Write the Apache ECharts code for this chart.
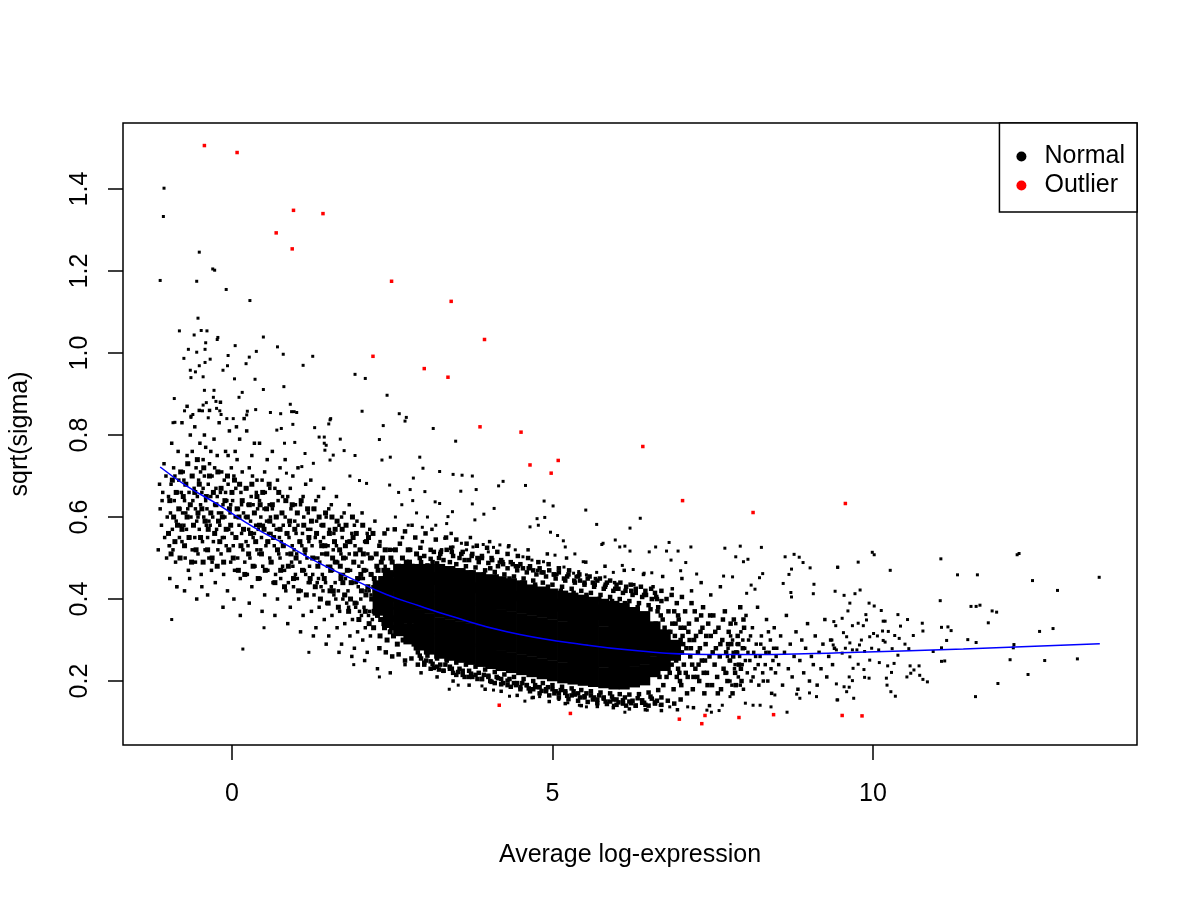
<!DOCTYPE html>
<html>
<head>
<meta charset="utf-8">
<title>sqrt(sigma) vs average log-expression</title>
<script src="https://cdn.jsdelivr.net/npm/echarts@6/dist/echarts.min.js"></script>
<style>
  html, body { margin: 0; background: #fff; }
  #main { width: 1200px; height: 900px; }
</style>
</head>
<body>
<div id="main"></div>
<script>
// axis ticks
const xTicks = [0, 5, 10];
const yTicks = [0.2, 0.4, 0.6, 0.8, 1.0, 1.2, 1.4];

// fitted trend (blue)
const trendX = [-1.12, -0.71, -0.19, 0.33, 0.85, 1.37, 1.89, 2.41, 2.93, 3.40, 4.29, 5.33, 6.37, 7.41, 8.45, 9.49, 11.41, 13.54];
const trendY = [0.722, 0.676, 0.628, 0.576, 0.532, 0.487, 0.448, 0.411, 0.383, 0.359, 0.320, 0.292, 0.273, 0.265, 0.265, 0.269, 0.278, 0.291];

// outliers (red)
const outlierX = [-0.43, 0.08, 0.96, 1.42, 0.69, 0.94, 2.49, 2.20, 3.42, 3.94, 3.00, 3.37, 3.87, 4.51, 6.41, 5.09, 4.65, 4.98, 7.03, 8.13, 9.57,
  4.17, 5.28, 6.98, 7.38, 7.33, 7.91, 8.45, 9.52, 9.83];
const outlierY = [1.506, 1.489, 1.348, 1.340, 1.293, 1.254, 1.175, 0.992, 1.126, 1.033, 0.962, 0.941, 0.820, 0.807, 0.772, 0.738, 0.727, 0.707, 0.640, 0.611, 0.633,
  0.141, 0.121, 0.107, 0.116, 0.096, 0.111, 0.118, 0.116, 0.115];

// normal genes: scattered points read one by one (x, y, x, y, ...)
const sparseNormal = [
  -1.06,1.402, -1.07,1.333, -0.51,1.246, -1.12,1.177, -0.30,1.205, -0.27,1.202, -0.55,1.175, -0.09,1.155, 0.28,1.128,
  -0.53,1.085, -0.82,1.054, -0.48,1.055, -0.39,1.054, -0.59,1.044, -0.22,1.038, 0.49,1.039, -0.41,1.025, 0.05,1.018,
  -0.23,1.033, 0.71,1.015, -0.68,1.009, -0.42,1.009, -0.55,1.002, 0.38,1.004, 0.80,0.997, 1.26,0.992, -0.75,0.987,
  -0.34,0.985, -0.06,0.994, 0.27,0.990, -0.51,0.969, -0.42,0.977, 0.22,0.974, -0.07,0.969, 1.11,0.970, -0.65,0.958,
  -0.57,0.954, -0.14,0.958, -0.45,0.942, -0.64,0.940, 0.04,0.937, 0.36,0.936, 1.92,0.948, 2.08,0.938, 0.81,0.918,
  -0.43,0.909, -0.28,0.909, 0.49,0.911, 0.16,0.904, -0.90,0.889, -0.29,0.892, 0.11,0.892, 2.42,0.897, -0.40,0.879,
  -0.25,0.882, -0.45,0.873, 0.91,0.875, -0.24,0.865, -0.74,0.859, -0.46,0.859, -0.19,0.859, 0.24,0.858, 0.37,0.862,
  0.60,0.855, 0.76,0.852, 0.93,0.857, 0.97,0.857, 1.01,0.855, 2.03,0.858, 2.61,0.852, -0.61,0.850, -0.64,0.843,
  -0.37,0.842, -0.17,0.850, -0.08,0.840, 0.02,0.840, 0.23,0.849, 1.54,0.840, 2.72,0.843, 2.36,0.823, 2.30,0.789,
  1.69,0.790, 1.75,0.762, 1.92,0.750, 1.45,0.763, 1.47,0.775, 1.36,0.795, 1.44,0.795, 1.51,0.827, 1.29,0.818,
  0.95,0.826, 0.98,0.782, 0.82,0.780, 0.77,0.816, -0.89,0.831, -0.64,0.846, 2.70,0.834, 3.14,0.816, 2.47,0.746,
  2.93,0.746, 2.98,0.719, 3.24,0.711, 2.83,0.695, 3.01,0.662, 3.17,0.637, 2.78,0.667, 2.46,0.678, 2.34,0.739,
  1.84,0.700, 1.99,0.689, 2.10,0.682, 1.53,0.739, 1.58,0.751, 1.44,0.780, 1.53,0.837, 0.70,0.812, 1.14,0.755,
  1.27,0.731, 1.09,0.723, 0.85,0.707, 2.55,0.600, 2.65,0.630, 2.75,0.580, 2.88,0.610, 2.97,0.575, 3.05,0.600,
  3.18,0.580, 2.60,0.660, 2.82,0.640,
  3.49,0.785, 3.45,0.704, 3.59,0.702, 3.75,0.700, 3.57,0.663, 3.81,0.667, 4.16,0.676, 4.23,0.687, 4.58,0.677,
  4.87,0.639, 5.01,0.627, 5.52,0.617, 6.37,0.597, 6.21,0.573, 5.69,0.582, 4.88,0.599, 4.76,0.596, 4.65,0.576,
  4.78,0.580, 4.97,0.563, 5.08,0.555, 5.17,0.542, 5.20,0.527, 5.35,0.510, 5.48,0.491, 5.77,0.533, 5.79,0.536,
  5.98,0.544, 6.05,0.527, 6.13,0.529, 6.21,0.517, 6.51,0.515, 6.61,0.527, 6.78,0.517, 6.82,0.538, 6.96,0.517,
  7.16,0.527, 6.85,0.495, 7.08,0.489, 7.00,0.469, 7.25,0.461, 6.55,0.464, 6.43,0.463, 6.26,0.472, 6.09,0.482,
  5.95,0.465, 5.82,0.454, 5.69,0.465, 5.53,0.459, 5.41,0.467, 5.33,0.463, 5.18,0.478, 5.04,0.507, 4.86,0.491,
  4.68,0.495, 4.54,0.503, 4.42,0.520, 4.31,0.527, 4.18,0.532, 4.08,0.526, 4.00,0.515, 3.92,0.533, 3.76,0.527,
  3.66,0.520, 3.58,0.536, 3.45,0.527, 3.32,0.548, 3.35,0.584, 3.44,0.613, 3.37,0.601, 3.24,0.633, 3.75,0.632,
  3.93,0.607, 4.09,0.621, 3.79,0.593,
  7.69,0.524, 7.93,0.529, 8.26,0.526, 7.86,0.503, 7.98,0.491, 8.05,0.497, 8.63,0.503, 8.77,0.509, 8.85,0.502,
  8.91,0.489, 9.02,0.476, 9.45,0.478, 8.69,0.460, 8.73,0.473, 8.28,0.462, 8.23,0.452, 7.81,0.454, 7.67,0.456,
  8.60,0.438, 9.08,0.436, 8.72,0.416, 9.07,0.413, 8.73,0.405, 8.16,0.424, 8.10,0.434, 8.03,0.414,
  8.66,0.124, 8.41,0.137, 8.24,0.141, 8.13,0.141, 8.01,0.146, 9.01,0.171, 9.12,0.162, 8.86,0.158, 9.45,0.154,
  8.47,0.166, 8.81,0.168, 7.77,0.162, 7.65,0.141, 7.60,0.128, 7.48,0.124, 7.41,0.129, 7.11,0.137, 6.83,0.137,
  6.68,0.141, 6.48,0.129, 6.13,0.124, 5.95,0.141, 5.53,0.137, 5.42,0.141, 5.24,0.147, 5.10,0.155, 4.80,0.162,
  4.68,0.159, 4.57,0.151, 4.33,0.163, 4.08,0.178, 3.90,0.188, 3.39,0.180, 3.53,0.190,
  9.99,0.514, 10.02,0.508, 11.06,0.498, 12.25,0.508, 12.28,0.511, 13.53,0.453, 12.49,0.445, 12.88,0.421, 11.32,0.459,
  11.63,0.459, 9.45,0.477, 9.77,0.490, 10.27,0.470, 9.41,0.419, 9.55,0.409, 9.72,0.413, 9.80,0.422, 11.05,0.396,
  11.53,0.382, 11.61,0.382, 11.67,0.385, 11.86,0.371, 11.93,0.368, 11.80,0.342, 12.60,0.321, 12.81,0.328, 11.07,0.331,
  11.17,0.332, 11.22,0.323, 11.15,0.299, 11.48,0.301, 11.61,0.294, 10.77,0.341, 10.78,0.322, 10.54,0.350, 10.39,0.362,
  10.63,0.311, 11.07,0.281, 12.20,0.289, 12.19,0.281, 12.14,0.252, 12.68,0.250, 13.19,0.254, 11.07,0.248, 11.12,0.249,
  12.42,0.216, 11.95,0.194, 11.60,0.162, 10.85,0.198, 10.78,0.204, 10.73,0.214, 10.59,0.219, 10.64,0.227, 10.72,0.237,
  10.58,0.237, 10.53,0.210, 10.94,0.272, 10.39,0.263, 10.56,0.279, 10.50,0.290, 10.41,0.304, 10.34,0.311, 10.43,0.334,
  10.19,0.346, 10.16,0.346, 10.13,0.372, 9.94,0.390, 10.02,0.383, 9.89,0.362, 10.24,0.321, 10.16,0.299, 10.19,0.295,
  10.30,0.279, 10.23,0.237, 10.33,0.243, 10.29,0.221, 10.21,0.207, 10.22,0.190, 10.28,0.174, 10.35,0.163, 10.10,0.245,
  9.95,0.251, 9.86,0.228, 9.94,0.207, 9.87,0.209, 9.69,0.231, 9.77,0.241, 9.63,0.210, 9.68,0.201, 9.55,0.186,
  9.63,0.185, 9.43,0.193, 9.59,0.174, 9.70,0.158, 9.44,0.154, 10.09,0.276, 9.98,0.280, 9.87,0.272, 9.75,0.276,
  9.68,0.276, 9.64,0.259, 9.52,0.268, 9.57,0.280, 9.38,0.288, 9.43,0.276, 9.79,0.288, 9.64,0.293, 9.82,0.300,
  9.59,0.308, 10.07,0.310, 10.01,0.316, 10.15,0.322, 9.95,0.308, 9.68,0.335, 9.54,0.318, 9.77,0.341, 9.85,0.335,
  9.90,0.349, 9.61,0.371, 9.42,0.335, 9.39,0.345, 9.52,0.353, 9.64,0.390, 9.36,0.300,
  0.17,0.278, -0.94,0.350, -0.86,0.430, -0.97,0.530, -0.92,0.830, 0.50,0.330, 1.20,0.270, 1.90,0.240, 2.30,0.210
];

// normal genes: the busy band around the trend (x, y, x, y, ...)
const bandNormal = [
  -1.12,0.62, -1.10,0.58, -1.08,0.66, -1.05,0.55, -1.03,0.70, -1.15,0.52, -1.01,0.60, -1.06,0.73, -1.13,0.68, -1.02,0.50, -1.09,0.64,
  -0.98,0.53, -0.96,0.61, -0.95,0.68, -0.93,0.57, -0.91,0.72, -0.90,0.64, -0.88,0.49, -0.87,0.59, -0.85,0.66, -0.84,0.76,
  -0.82,0.55, -0.81,0.62, -0.97,0.45, -0.94,0.78, -0.89,0.70, -0.86,0.43, -0.83,0.69, -0.92,0.52, -0.99,0.65, -0.80,0.58,
  -0.79,0.66, -0.78,0.54, -0.77,0.61, -0.76,0.71, -0.75,0.58, -0.74,0.64, -0.73,0.50, -0.72,0.68, -0.71,0.57, -0.70,0.75,
  -0.69,0.62, -0.68,0.47, -0.67,0.66, -0.66,0.55, -0.65,0.80, -0.64,0.60, -0.63,0.70, -0.62,0.52, -0.61,0.64, -0.60,0.58,
  -0.78,0.83, -0.74,0.42, -0.70,0.87, -0.66,0.45, -0.62,0.76, -0.68,0.73, -0.75,0.69, -0.72,0.61,
  -0.59,0.67, -0.58,0.55, -0.57,0.62, -0.56,0.72, -0.55,0.59, -0.54,0.65, -0.53,0.51, -0.52,0.69, -0.51,0.57, -0.50,0.78,
  -0.49,0.63, -0.48,0.46, -0.47,0.66, -0.46,0.54, -0.45,0.74, -0.44,0.60, -0.43,0.70, -0.42,0.52, -0.41,0.64, -0.40,0.58,
  -0.58,0.82, -0.55,0.40, -0.51,0.86, -0.47,0.43, -0.43,0.80, -0.49,0.71, -0.57,0.49, -0.53,0.60, -0.45,0.67, -0.41,0.77,
  -0.39,0.62, -0.38,0.55, -0.37,0.68, -0.36,0.50, -0.35,0.73, -0.34,0.58, -0.33,0.65, -0.32,0.47, -0.31,0.70, -0.30,0.60,
  -0.29,0.54, -0.28,0.79, -0.27,0.63, -0.26,0.44, -0.25,0.67, -0.24,0.57, -0.23,0.75, -0.22,0.52, -0.21,0.61, -0.20,0.83,
  -0.38,0.41, -0.35,0.86, -0.31,0.49, -0.27,0.72, -0.23,0.65, -0.36,0.59, -0.29,0.66, -0.33,0.76,
  -0.19,0.58, -0.18,0.66, -0.17,0.51, -0.16,0.71, -0.15,0.55, -0.14,0.63, -0.13,0.46, -0.12,0.69, -0.11,0.60, -0.10,0.76,
  -0.09,0.53, -0.08,0.64, -0.07,0.42, -0.06,0.68, -0.05,0.57, -0.04,0.81, -0.03,0.61, -0.02,0.49, -0.01,0.72, 0.00,0.56,
  -0.18,0.88, -0.14,0.38, -0.10,0.66, -0.06,0.75, -0.02,0.63, -0.16,0.61, -0.12,0.55, -0.04,0.52,
  0.01,0.64, 0.02,0.53, 0.03,0.70, 0.04,0.47, 0.05,0.60, 0.06,0.67, 0.07,0.55, 0.08,0.74, 0.09,0.50, 0.10,0.62,
  0.11,0.58, 0.12,0.79, 0.13,0.45, 0.14,0.66, 0.15,0.56, 0.16,0.71, 0.17,0.52, 0.18,0.61, 0.19,0.84, 0.20,0.49,
  0.03,0.40, 0.07,0.82, 0.11,0.68, 0.15,0.63, 0.19,0.57, 0.05,0.76, 0.13,0.36,
  0.21,0.60, 0.22,0.54, 0.23,0.67, 0.24,0.46, 0.25,0.63, 0.26,0.57, 0.27,0.72, 0.28,0.50, 0.29,0.59, 0.30,0.65,
  0.31,0.43, 0.32,0.70, 0.33,0.55, 0.34,0.61, 0.35,0.78, 0.36,0.48, 0.37,0.58, 0.38,0.66, 0.39,0.52, 0.40,0.62,
  0.23,0.81, 0.27,0.39, 0.31,0.75, 0.35,0.56, 0.39,0.69, 0.25,0.53, 0.33,0.63,
  0.41,0.57, 0.42,0.51, 0.43,0.64, 0.44,0.45, 0.45,0.60, 0.46,0.55, 0.47,0.69, 0.48,0.48, 0.49,0.58, 0.50,0.62,
  0.51,0.41, 0.52,0.66, 0.53,0.53, 0.54,0.59, 0.55,0.74, 0.56,0.47, 0.57,0.56, 0.58,0.63, 0.59,0.50, 0.60,0.60,
  0.43,0.78, 0.47,0.37, 0.51,0.71, 0.55,0.54, 0.59,0.67, 0.45,0.52,
  0.61,0.56, 0.62,0.49, 0.63,0.62, 0.64,0.44, 0.65,0.58, 0.66,0.53, 0.67,0.67, 0.68,0.46, 0.69,0.57, 0.70,0.60,
  0.71,0.40, 0.72,0.64, 0.73,0.51, 0.74,0.55, 0.75,0.72, 0.76,0.45, 0.77,0.54, 0.78,0.61, 0.79,0.48, 0.80,0.58,
  0.63,0.76, 0.67,0.36, 0.71,0.69, 0.75,0.50, 0.79,0.65,
  0.81,0.53, 0.82,0.47, 0.83,0.60, 0.84,0.42, 0.85,0.56, 0.86,0.51, 0.87,0.65, 0.88,0.44, 0.89,0.55, 0.90,0.58,
  0.91,0.38, 0.92,0.62, 0.93,0.49, 0.94,0.53, 0.95,0.70, 0.96,0.43, 0.97,0.52, 0.98,0.59, 0.99,0.46, 1.00,0.56,
  0.83,0.74, 0.87,0.34, 0.91,0.67, 0.95,0.48, 0.99,0.63,
  1.01,0.51, 1.02,0.45, 1.03,0.58, 1.04,0.40, 1.05,0.54, 1.06,0.49, 1.07,0.63, 1.08,0.42, 1.09,0.53, 1.10,0.56,
  1.11,0.36, 1.12,0.60, 1.13,0.47, 1.14,0.51, 1.15,0.68, 1.16,0.41, 1.17,0.50, 1.18,0.57, 1.19,0.44, 1.20,0.54,
  1.03,0.72, 1.07,0.32, 1.11,0.65, 1.15,0.46, 1.19,0.61,
  1.21,0.48, 1.22,0.44, 1.23,0.57, 1.24,0.37, 1.25,0.53, 1.26,0.46, 1.27,0.62, 1.28,0.41, 1.29,0.50, 1.30,0.55,
  1.31,0.33, 1.32,0.59, 1.33,0.44, 1.34,0.50, 1.35,0.65, 1.36,0.38, 1.37,0.49, 1.38,0.54, 1.39,0.43, 1.40,0.51,
  1.23,0.69, 1.27,0.31, 1.31,0.64, 1.35,0.45, 1.39,0.58,
  1.41,0.46, 1.42,0.42, 1.43,0.55, 1.44,0.35, 1.45,0.51, 1.46,0.44, 1.47,0.60, 1.48,0.39, 1.49,0.48, 1.50,0.53,
  1.51,0.31, 1.52,0.57, 1.53,0.42, 1.54,0.48, 1.55,0.63, 1.56,0.36, 1.57,0.47, 1.58,0.52, 1.59,0.41, 1.60,0.49,
  1.43,0.67, 1.47,0.29, 1.51,0.62, 1.55,0.43, 1.59,0.56,
  1.61,0.44, 1.62,0.40, 1.63,0.53, 1.64,0.33, 1.65,0.49, 1.66,0.42, 1.67,0.58, 1.68,0.37, 1.69,0.46, 1.70,0.51,
  1.71,0.29, 1.72,0.55, 1.73,0.40, 1.74,0.46, 1.75,0.61, 1.76,0.34, 1.77,0.45, 1.78,0.50, 1.79,0.39, 1.80,0.47,
  1.63,0.65, 1.67,0.27, 1.71,0.60, 1.75,0.41, 1.79,0.54,
  1.81,0.42, 1.82,0.38, 1.83,0.51, 1.84,0.31, 1.85,0.47, 1.86,0.40, 1.87,0.56, 1.88,0.35, 1.89,0.44, 1.90,0.49,
  1.91,0.28, 1.92,0.53, 1.93,0.38, 1.94,0.44, 1.95,0.59, 1.96,0.32, 1.97,0.43, 1.98,0.48, 1.99,0.37, 2.00,0.45,
  1.83,0.63, 1.87,0.26, 1.91,0.58, 1.95,0.39, 1.99,0.52,
  2.01,0.40, 2.02,0.36, 2.03,0.49, 2.04,0.30, 2.05,0.45, 2.06,0.38, 2.07,0.54, 2.08,0.33, 2.09,0.42, 2.10,0.47,
  2.11,0.27, 2.12,0.51, 2.13,0.36, 2.14,0.42, 2.15,0.57, 2.16,0.31, 2.17,0.41, 2.18,0.46, 2.19,0.35, 2.20,0.43,
  2.03,0.61, 2.07,0.25, 2.11,0.56, 2.15,0.37, 2.19,0.50,
  2.23,0.59, 2.27,0.23, 2.31,0.54, 2.35,0.35, 2.39,0.48, 2.43,0.57, 2.47,0.22, 2.51,0.52, 2.55,0.33, 2.59,0.46,
  2.66,0.55, 2.81,0.58, 2.97,0.54, 3.12,0.57, 3.27,0.52, 3.42,0.56, 3.57,0.51, 3.72,0.55, 3.87,0.50, 4.02,0.54,
  4.17,0.49, 4.32,0.53, 4.47,0.48, 4.62,0.52, 4.77,0.47, 4.92,0.51, 5.07,0.46, 5.22,0.50, 5.37,0.455, 5.52,0.49,
  5.67,0.45, 5.82,0.48, 5.97,0.44, 6.12,0.47, 6.27,0.435, 6.42,0.46, 6.57,0.43, 6.72,0.455, 6.87,0.425, 7.02,0.45,
  7.17,0.42, 7.32,0.44, 7.47,0.41, 7.62,0.43,
  2.70,0.24, 2.95,0.22, 3.20,0.21, 3.45,0.20, 3.70,0.19, 3.95,0.18, 4.20,0.175, 4.45,0.165, 4.70,0.16, 4.95,0.15,
  5.20,0.145, 5.45,0.14, 5.70,0.138, 5.95,0.135, 6.20,0.132, 6.45,0.13, 6.70,0.128, 6.95,0.13, 7.20,0.135, 7.45,0.14,
  7.72,0.22, 7.74,0.28, 7.76,0.25, 7.78,0.31, 7.80,0.19, 7.82,0.27, 7.84,0.23, 7.86,0.34, 7.88,0.29, 7.90,0.21,
  7.92,0.26, 7.94,0.32, 7.96,0.24, 7.98,0.18, 8.00,0.28, 8.02,0.36, 8.04,0.22, 8.06,0.30, 8.08,0.25, 8.10,0.20,
  8.12,0.33, 8.14,0.27, 8.16,0.23, 8.18,0.29, 8.20,0.38, 8.22,0.19, 8.24,0.26, 8.26,0.31, 8.28,0.22, 8.30,0.28,
  8.32,0.24, 8.34,0.35, 8.36,0.20, 8.38,0.27, 8.40,0.30, 8.42,0.17, 8.44,0.25, 8.46,0.33, 8.48,0.22, 8.50,0.28,
  8.53,0.24, 8.56,0.31, 8.59,0.19, 8.62,0.27, 8.65,0.36, 8.68,0.23, 8.71,0.29, 8.74,0.21, 8.77,0.26, 8.80,0.32,
  8.83,0.18, 8.86,0.25, 8.89,0.30, 8.92,0.22, 8.95,0.28, 8.98,0.34, 9.01,0.20, 9.04,0.26, 9.07,0.24, 9.10,0.31,
  9.13,0.19, 9.16,0.27, 9.19,0.23, 9.22,0.29, 9.25,0.35, 9.28,0.21, 9.31,0.26, 9.34,0.30, 9.37,0.24, 9.40,0.28,
  7.73,0.26, 7.77,0.20, 7.81,0.30, 7.85,0.24, 7.89,0.27, 7.93,0.19, 7.97,0.30, 8.01,0.25, 8.05,0.27, 8.09,0.31,
  8.13,0.21, 8.17,0.26, 8.21,0.24, 8.25,0.29, 8.29,0.20, 8.33,0.27, 8.37,0.32, 8.41,0.23, 8.45,0.28, 8.49,0.26
];

// normal genes: the thick left part of the cloud (x, y, ...)
const leftCloud = [
  -0.99,0.56, -0.97,0.64, -0.95,0.51, -0.93,0.69, -0.91,0.60, -0.89,0.54, -0.87,0.66, -0.85,0.58,
  -0.83,0.62, -0.81,0.50, -0.80,0.71, -0.78,0.57, -0.76,0.65, -0.74,0.53, -0.72,0.68, -0.70,0.60, -0.69,0.73,
  -0.67,0.55, -0.65,0.63, -0.63,0.49, -0.62,0.70, -0.60,0.58, -0.58,0.66, -0.56,0.52, -0.54,0.74, -0.53,0.61,
  -0.51,0.68, -0.49,0.55, -0.47,0.62, -0.45,0.49, -0.44,0.72, -0.42,0.59, -0.40,0.65, -0.38,0.52, -0.37,0.57,
  -0.35,0.70, -0.33,0.61, -0.31,0.50, -0.29,0.66, -0.27,0.56, -0.25,0.63, -0.23,0.48, -0.22,0.71, -0.21,0.59,
  -0.19,0.54, -0.17,0.67, -0.15,0.60, -0.13,0.49, -0.11,0.64, -0.09,0.57, -0.07,0.70, -0.05,0.52, -0.04,0.62,
  -0.02,0.58, 0.00,0.66, 0.02,0.50, 0.04,0.69, 0.06,0.55, 0.08,0.62, 0.10,0.47, 0.11,0.60, 0.12,0.68,
  0.14,0.53, 0.16,0.64, 0.18,0.57, 0.20,0.46, 0.22,0.67, 0.24,0.60, 0.26,0.51, 0.27,0.63,
  0.29,0.56, 0.31,0.68, 0.33,0.48, 0.35,0.61, 0.37,0.54, 0.39,0.65, 0.41,0.45, 0.43,0.58, 0.44,0.63,
  0.46,0.51, 0.48,0.66, 0.50,0.57, 0.52,0.47, 0.54,0.62, 0.56,0.54, 0.58,0.68, 0.59,0.59,
  0.61,0.49, 0.63,0.63, 0.65,0.55, 0.67,0.44, 0.69,0.60, 0.71,0.52, 0.73,0.66, 0.75,0.57, 0.76,0.47,
  0.78,0.61, 0.80,0.53, 0.82,0.43, 0.84,0.64, 0.86,0.56, 0.88,0.48, 0.90,0.59, 0.92,0.51,
  0.94,0.63, 0.96,0.45, 0.98,0.57, 1.00,0.50, 1.02,0.61, 1.04,0.42, 1.06,0.54, 1.08,0.64,
  1.10,0.47, 1.12,0.58, 1.14,0.52, 1.16,0.41, 1.18,0.62, 1.20,0.55, 1.22,0.45, 1.24,0.59,
  1.26,0.50, 1.28,0.62, 1.30,0.43, 1.32,0.56, 1.34,0.48, 1.36,0.60, 1.38,0.40, 1.40,0.53,
  1.42,0.58, 1.44,0.45, 1.46,0.61, 1.48,0.51, 1.50,0.39, 1.52,0.56, 1.54,0.47, 1.56,0.60,
  1.58,0.42, 1.60,0.54, 1.62,0.49, 1.64,0.59, 1.66,0.38, 1.68,0.52, 1.70,0.45, 1.72,0.57,
  1.74,0.50, 1.76,0.41, 1.78,0.58, 1.80,0.47, 1.82,0.37, 1.84,0.54, 1.86,0.44, 1.88,0.60,
  1.90,0.49, 1.92,0.39, 1.94,0.56, 1.96,0.45, 1.98,0.35, 2.00,0.52, 2.02,0.42, 2.04,0.58,
  2.06,0.47, 2.08,0.37, 2.10,0.54, 2.12,0.43, 2.14,0.34, 2.16,0.50, 2.18,0.40, 2.20,0.56,
  1.45,0.53, 1.53,0.42, 1.61,0.57, 1.69,0.48, 1.77,0.53, 1.85,0.40, 1.93,0.51, 2.01,0.46, 2.09,0.41, 2.17,0.46,
  1.57,0.50, 1.73,0.44, 1.89,0.55, 2.05,0.51, 2.13,0.55,
  2.21,0.33, 2.22,0.45, 2.24,0.39, 2.25,0.51, 2.27,0.36, 2.28,0.47, 2.30,0.42, 2.31,0.31, 2.33,0.49, 2.34,0.38,
  2.36,0.44, 2.37,0.34, 2.39,0.52, 2.40,0.41, 2.42,0.30, 2.43,0.47, 2.45,0.37, 2.46,0.43, 2.48,0.50, 2.49,0.33,
  2.51,0.40, 2.52,0.46, 2.54,0.35, 2.55,0.52, 2.57,0.42, 2.58,0.29, 2.60,0.48, 2.61,0.38, 2.63,0.44, 2.64,0.32,
  2.66,0.50, 2.67,0.40, 2.69,0.35, 2.70,0.46, 2.72,0.42, 2.73,0.30, 2.75,0.52, 2.76,0.37, 2.78,0.44, 2.79,0.33,
  2.81,0.48, 2.82,0.40, 2.84,0.29, 2.85,0.45, 2.87,0.36, 2.88,0.51, 2.89,0.42,
  2.23,0.42, 2.26,0.48, 2.29,0.37, 2.32,0.45, 2.35,0.50, 2.38,0.33, 2.41,0.45, 2.44,0.40, 2.47,0.32, 2.50,0.49,
  2.53,0.43, 2.56,0.38, 2.59,0.45, 2.62,0.35, 2.65,0.41, 2.68,0.47, 2.71,0.38, 2.74,0.43, 2.77,0.49, 2.80,0.36,
  2.83,0.42, 2.86,0.39, 2.89,0.32, 2.22,0.37, 2.27,0.43, 2.32,0.35, 2.37,0.47, 2.42,0.38, 2.47,0.45, 2.52,0.31,
  2.57,0.47, 2.62,0.41, 2.67,0.30, 2.72,0.49, 2.77,0.34, 2.82,0.46, 2.87,0.47
];

// normal genes: upper and lower edges of the dense core (x, y, ...)
const edgeNormal = [
  2.90,0.475, 2.95,0.49, 3.00,0.505, 3.05,0.482, 3.10,0.498, 3.15,0.515, 3.20,0.487, 3.25,0.51, 3.30,0.495, 3.35,0.52,
  3.40,0.49, 3.45,0.505, 3.50,0.485, 3.55,0.50, 3.60,0.515, 3.65,0.48, 3.70,0.495, 3.75,0.51, 3.80,0.477, 3.85,0.49,
  3.90,0.505, 3.95,0.47, 4.00,0.488, 4.05,0.50, 4.10,0.466, 4.15,0.48, 4.20,0.495, 4.25,0.46, 4.30,0.475, 4.35,0.49,
  4.40,0.455, 4.45,0.47, 4.50,0.485, 4.55,0.45, 4.60,0.465, 4.65,0.48, 4.70,0.445, 4.75,0.46, 4.80,0.475, 4.85,0.44,
  4.90,0.455, 4.95,0.47, 5.00,0.435, 5.05,0.45, 5.10,0.465, 5.15,0.43, 5.20,0.445, 5.25,0.46, 5.30,0.425, 5.35,0.44,
  5.40,0.455, 5.45,0.42, 5.50,0.435, 5.55,0.45, 5.60,0.415, 5.65,0.43, 5.70,0.445, 5.75,0.41, 5.80,0.425, 5.85,0.44,
  5.90,0.405, 5.95,0.42, 6.00,0.435, 6.05,0.40, 6.10,0.415, 6.15,0.43, 6.20,0.395, 6.25,0.41, 6.30,0.425, 6.35,0.39,
  6.40,0.405, 6.45,0.42, 6.50,0.385, 6.55,0.40, 6.60,0.415, 6.65,0.38, 6.70,0.395,
  2.93,0.50, 3.03,0.47, 3.13,0.49, 3.23,0.50, 3.33,0.475, 3.43,0.515, 3.53,0.47, 3.63,0.495, 3.73,0.465, 3.83,0.50,
  3.93,0.46, 4.03,0.475, 4.13,0.455, 4.23,0.485, 4.33,0.45, 4.43,0.48, 4.53,0.44, 4.63,0.475, 4.73,0.435, 4.83,0.465,
  4.93,0.43, 5.03,0.46, 5.13,0.42, 5.23,0.455, 5.33,0.415, 5.43,0.445, 5.53,0.41, 5.63,0.44, 5.73,0.40, 5.83,0.435,
  5.93,0.395, 6.03,0.425, 6.13,0.39, 6.23,0.42, 6.33,0.38, 6.43,0.41, 6.53,0.375, 6.63,0.40,
  2.90,0.27, 2.95,0.255, 3.00,0.24, 3.05,0.262, 3.10,0.248, 3.15,0.232, 3.20,0.255, 3.25,0.24, 3.30,0.225, 3.35,0.25,
  3.40,0.235, 3.45,0.22, 3.50,0.245, 3.55,0.23, 3.60,0.215, 3.65,0.24, 3.70,0.225, 3.75,0.21, 3.80,0.235, 3.85,0.22,
  3.90,0.205, 3.95,0.228, 4.00,0.213, 4.05,0.198, 4.10,0.222, 4.15,0.207, 4.20,0.192, 4.25,0.216, 4.30,0.201, 4.35,0.186,
  4.40,0.21, 4.45,0.195, 4.50,0.18, 4.55,0.205, 4.60,0.19, 4.65,0.175, 4.70,0.20, 4.75,0.185, 4.80,0.17, 4.85,0.195,
  4.90,0.18, 4.95,0.165, 5.00,0.19, 5.05,0.175, 5.10,0.16, 5.15,0.186, 5.20,0.171, 5.25,0.156, 5.30,0.182, 5.35,0.167,
  5.40,0.152, 5.45,0.178, 5.50,0.163, 5.55,0.149, 5.60,0.175, 5.65,0.16, 5.70,0.146, 5.75,0.172, 5.80,0.157, 5.85,0.144,
  5.90,0.17, 5.95,0.155, 6.00,0.142, 6.05,0.168, 6.10,0.153, 6.15,0.14, 6.20,0.167, 6.25,0.152, 6.30,0.14, 6.35,0.168,
  6.40,0.153, 6.45,0.142, 6.50,0.172, 6.55,0.157, 6.60,0.145, 6.65,0.178, 6.70,0.16,
  2.93,0.262, 3.03,0.25, 3.13,0.242, 3.23,0.228, 3.33,0.24, 3.43,0.23, 3.53,0.222, 3.63,0.21, 3.73,0.218, 3.83,0.205,
  3.93,0.215, 4.03,0.20, 4.13,0.21, 4.23,0.195, 4.33,0.205, 4.43,0.19, 4.53,0.195, 4.63,0.182, 4.73,0.19, 4.83,0.176,
  4.93,0.185, 5.03,0.17, 5.13,0.178, 5.23,0.164, 5.33,0.175, 5.43,0.16, 5.53,0.17, 5.63,0.155, 5.73,0.165, 5.83,0.15,
  5.93,0.162, 6.03,0.148, 6.13,0.16, 6.23,0.146, 6.33,0.158, 6.43,0.147, 6.53,0.162, 6.63,0.152,
  2.30,0.53, 2.38,0.56, 2.46,0.52, 2.54,0.57, 2.62,0.535, 2.70,0.565, 2.78,0.52, 2.86,0.55, 2.94,0.525, 3.02,0.56,
  3.10,0.52, 3.18,0.545, 3.26,0.515, 3.34,0.55, 3.42,0.525, 3.50,0.545, 3.58,0.51, 3.66,0.535, 3.74,0.505, 3.82,0.53,
  3.90,0.50, 3.98,0.525, 4.06,0.495, 4.14,0.515, 4.22,0.49, 4.30,0.51, 4.38,0.485, 4.46,0.505, 4.54,0.475, 4.62,0.50,
  4.70,0.47, 4.78,0.49, 4.86,0.465, 4.94,0.485, 5.02,0.46, 5.10,0.475, 5.18,0.45, 5.26,0.47, 5.34,0.445, 5.42,0.46,
  5.50,0.44, 5.58,0.455, 5.66,0.435, 5.74,0.45, 5.82,0.43, 5.90,0.445, 5.98,0.425, 6.06,0.44, 6.14,0.42, 6.22,0.435,
  6.30,0.415, 6.38,0.43, 6.46,0.41, 6.54,0.425, 6.62,0.405, 6.70,0.42, 6.78,0.40, 6.86,0.41, 6.94,0.39, 7.02,0.405,
  2.30,0.28, 2.40,0.27, 2.50,0.26, 2.60,0.265, 2.70,0.25, 2.80,0.255, 2.90,0.24, 3.00,0.245, 3.10,0.23, 3.20,0.235,
  3.30,0.225, 3.40,0.23, 3.50,0.215, 3.60,0.225, 3.70,0.21, 3.80,0.215, 3.90,0.205, 4.00,0.21, 4.10,0.195, 4.20,0.205,
  4.30,0.19, 4.40,0.195, 4.50,0.185, 4.60,0.19, 4.70,0.18, 4.80,0.185, 4.90,0.175, 5.00,0.18, 5.10,0.17, 5.20,0.175,
  5.30,0.165, 5.40,0.17, 5.50,0.16, 5.60,0.165, 5.70,0.155, 5.80,0.16, 5.90,0.15, 6.00,0.155, 6.10,0.145, 6.20,0.15,
  6.30,0.14, 6.40,0.147, 6.50,0.14, 6.60,0.148, 6.70,0.142, 6.80,0.152, 6.90,0.145, 7.00,0.155
];

// normal genes: fading right end of the dense core (x, y, ...)
const rightCloud = [
  6.61,0.34, 6.63,0.25, 6.65,0.31, 6.67,0.21, 6.69,0.36, 6.71,0.28, 6.73,0.19, 6.75,0.33, 6.77,0.24, 6.79,0.30,
  6.81,0.37, 6.83,0.22, 6.85,0.27, 6.87,0.34, 6.89,0.18, 6.91,0.31, 6.93,0.25, 6.95,0.29, 6.97,0.35, 6.99,0.20,
  6.62,0.29, 6.66,0.26, 6.70,0.32, 6.74,0.27, 6.78,0.21, 6.82,0.29, 6.86,0.24, 6.90,0.37, 6.94,0.21, 6.98,0.27,
  6.64,0.37, 6.68,0.23, 6.72,0.35, 6.76,0.29, 6.80,0.26, 6.84,0.32, 6.88,0.28, 6.92,0.34, 6.96,0.23, 7.00,0.33,
  7.04,0.29, 7.08,0.22, 7.12,0.32, 7.16,0.28, 7.20,0.21, 7.24,0.31, 7.28,0.24, 7.32,0.36, 7.36,0.22, 7.40,0.31,
  6.98,0.22, 6.96,0.36, 7.00,0.30,
  7.01,0.19, 7.03,0.31, 7.05,0.24, 7.07,0.37, 7.09,0.28, 7.11,0.21, 7.13,0.34, 7.15,0.26, 7.17,0.39, 7.19,0.18,
  7.21,0.30, 7.23,0.23, 7.25,0.35, 7.27,0.27, 7.29,0.20, 7.31,0.32, 7.33,0.25, 7.35,0.38, 7.37,0.17, 7.39,0.29,
  7.41,0.22, 7.43,0.34, 7.45,0.26, 7.47,0.31, 7.49,0.19, 7.51,0.36, 7.53,0.24, 7.55,0.28, 7.57,0.21, 7.59,0.33,
  7.61,0.26, 7.63,0.18, 7.65,0.30, 7.67,0.23, 7.69,0.37, 7.71,0.27, 7.73,0.20, 7.75,0.32, 7.77,0.25, 7.79,0.29,
  7.81,0.17, 7.83,0.35, 7.85,0.22, 7.87,0.27, 7.89,0.31, 7.91,0.24, 7.93,0.38, 7.95,0.20, 7.97,0.28, 7.99,0.33,
  7.02,0.27, 7.06,0.33, 7.10,0.17, 7.14,0.30, 7.18,0.24, 7.22,0.37, 7.26,0.21, 7.30,0.28, 7.34,0.33, 7.38,0.25,
  7.42,0.19, 7.46,0.36, 7.50,0.27, 7.54,0.32, 7.58,0.17, 7.62,0.29, 7.66,0.35, 7.70,0.22, 7.74,0.29, 7.78,0.34,
  7.82,0.26, 7.86,0.19, 7.90,0.29, 7.94,0.23, 7.98,0.35
];

// near-solid core of the cloud, tapering at both ends: [x, y1, y2, ...]
const coreCols = [
  [2.28, 0.385, 0.42],
  [2.44, 0.355, 0.40, 0.445],
  [2.60, 0.335, 0.38, 0.425, 0.46],
  [2.76, 0.315, 0.365, 0.415, 0.46],
  [2.92, 0.30, 0.35, 0.40, 0.44, 0.46],
  [3.08, 0.29, 0.34, 0.39, 0.44, 0.46],
  [3.24, 0.28, 0.33, 0.38, 0.43, 0.46],
  [3.40, 0.275, 0.325, 0.375, 0.425, 0.455],
  [3.56, 0.27, 0.32, 0.37, 0.42, 0.45],
  [3.72, 0.265, 0.315, 0.365, 0.415, 0.445],
  [3.88, 0.26, 0.31, 0.36, 0.41, 0.44],
  [4.04, 0.255, 0.305, 0.355, 0.405, 0.435],
  [4.20, 0.25, 0.30, 0.35, 0.40, 0.43],
  [4.36, 0.245, 0.295, 0.345, 0.395, 0.425],
  [4.52, 0.24, 0.29, 0.34, 0.39, 0.42],
  [4.68, 0.235, 0.285, 0.335, 0.385, 0.41],
  [4.84, 0.23, 0.28, 0.33, 0.38, 0.405],
  [5.00, 0.225, 0.275, 0.325, 0.375, 0.40],
  [5.16, 0.22, 0.27, 0.32, 0.37, 0.395],
  [5.32, 0.217, 0.267, 0.317, 0.367, 0.39],
  [5.48, 0.214, 0.264, 0.314, 0.364, 0.385],
  [5.64, 0.211, 0.261, 0.311, 0.361, 0.38],
  [5.80, 0.208, 0.258, 0.308, 0.358, 0.375],
  [5.96, 0.205, 0.255, 0.305, 0.355, 0.37],
  [6.12, 0.205, 0.255, 0.305, 0.35, 0.365],
  [6.28, 0.21, 0.26, 0.31, 0.355],
  [6.44, 0.215, 0.265, 0.315, 0.345],
  [6.60, 0.235, 0.285, 0.32],
  [6.76, 0.25, 0.30],
  [6.92, 0.275]
];

function pairs(flat) {
  const out = [];
  for (let i = 0; i < flat.length; i += 2) out.push([flat[i], flat[i + 1]]);
  return out;
}
function columns(list) {
  const out = [];
  list.forEach(c => { for (let i = 1; i < c.length; i++) out.push([c[0], c[i]]); });
  return out;
}

const font = "'Liberation Sans', Arial, Helvetica, sans-serif";
const black = { color: '#000', opacity: 1 };
const chart = echarts.init(document.getElementById('main'), null, { renderer: 'canvas' });

chart.setOption({
  animation: false,
  backgroundColor: '#fff',
  textStyle: { fontFamily: font, color: '#000' },
  grid: { left: 123, right: 63, top: 123, bottom: 155, show: true, borderColor: '#000', borderWidth: 1.5, backgroundColor: 'transparent' },
  legend: {
    right: 63, top: 123, orient: 'vertical',
    data: [{ name: 'Normal', icon: 'circle' }, { name: 'Outlier', icon: 'circle' }],
    itemWidth: 36, itemHeight: 10, itemGap: 4,
    padding: [21, 12, 14, 17],
    borderColor: '#000', borderWidth: 1.5, borderRadius: 0,
    backgroundColor: '#fff',
    textStyle: { fontSize: 25, fontFamily: font, color: '#000', lineHeight: 25 },
    z: 20
  },
  xAxis: {
    type: 'value', min: -1.70, max: 14.12,
    name: 'Average log-expression', nameLocation: 'middle', nameGap: 98,
    nameTextStyle: { fontSize: 25, fontFamily: font, color: '#000' },
    axisLine: { show: false, onZero: false },
    splitLine: { show: false },
    axisTick: { show: true, inside: false, length: 15, customValues: xTicks, lineStyle: { color: '#000', width: 1.5 } },
    axisLabel: { customValues: xTicks, margin: 37, fontSize: 25, fontFamily: font, color: '#000' }
  },
  yAxis: {
    type: 'value', min: 0.044, max: 1.561,
    name: 'sqrt(sigma)', nameLocation: 'middle', nameGap: 90,
    nameTextStyle: { fontSize: 25, fontFamily: font, color: '#000' },
    axisLine: { show: false, onZero: false },
    splitLine: { show: false },
    axisTick: { show: true, inside: false, length: 15, customValues: yTicks, lineStyle: { color: '#000', width: 1.5 } },
    axisLabel: { customValues: yTicks, rotate: 90, margin: 30, fontSize: 25, fontFamily: font, color: '#000',
      formatter: v => v.toFixed(1) }
  },
  series: [
    { name: 'Normal', type: 'scatter', data: pairs(sparseNormal), symbol: 'rect', symbolSize: 3, itemStyle: black, z: 2 },
    { name: 'Normal', type: 'scatter', data: pairs(bandNormal), symbol: 'rect', symbolSize: 3.5, itemStyle: black, z: 2 },
    { name: 'Normal', type: 'scatter', data: pairs(leftCloud), symbol: 'rect', symbolSize: 5, itemStyle: black, z: 2 },
    { name: 'Normal', type: 'scatter', data: pairs(edgeNormal), symbol: 'rect', symbolSize: 4.5, itemStyle: black, z: 2 },
    { name: 'Normal', type: 'scatter', data: pairs(rightCloud), symbol: 'rect', symbolSize: 4.5, itemStyle: black, z: 2 },
    { name: 'Normal', type: 'scatter', data: columns(coreCols), symbol: 'rect', symbolSize: [11, 21], itemStyle: black, z: 2 },
    { name: 'Outlier', type: 'scatter', data: outlierX.map((x, i) => [x, outlierY[i]]), symbol: 'rect', symbolSize: 3.5,
      itemStyle: { color: '#ff0000', opacity: 1 }, z: 3 },
    { name: 'trend', type: 'line', data: trendX.map((x, i) => [x, trendY[i]]), smooth: true, showSymbol: false,
      lineStyle: { color: '#0000ff', width: 1.5 }, z: 4, silent: true }
  ]
});
</script>
</body>
</html>
